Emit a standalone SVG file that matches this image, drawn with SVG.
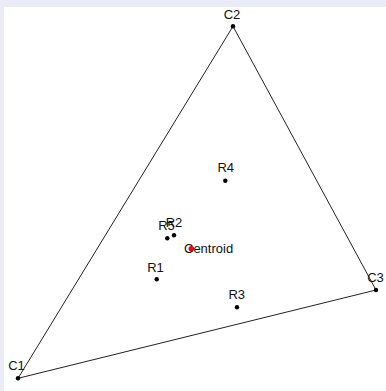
<svg xmlns="http://www.w3.org/2000/svg" width="386" height="391" viewBox="0 0 386 391">
<style>
.lbl{font-family:"Liberation Sans",Arial,sans-serif;font-size:13px;fill:#111;text-anchor:middle}
.pt{fill:#000}
.edge{stroke:#222;stroke-width:1;fill:none}
</style>
<rect x="0" y="0" width="386" height="391" fill="#ebebf8"/>
<rect x="4" y="7" width="382" height="384" fill="#fff"/>
<g id="connectors">
<line class="edge" x1="18" y1="378.3" x2="233" y2="26.3"/>
<line class="edge" x1="233" y1="26.3" x2="376" y2="290"/>
<line class="edge" x1="376" y1="290" x2="18" y2="378.3"/>
</g>
<g id="C1"><circle class="pt" cx="18" cy="378.3" r="2.2"/><text class="lbl" x="16.5" y="369.5">C1</text></g>
<g id="C2"><circle class="pt" cx="233" cy="26.3" r="2.2"/><text class="lbl" x="232" y="19">C2</text></g>
<g id="C3"><circle class="pt" cx="376" cy="290" r="2.2"/><text class="lbl" x="375.5" y="282">C3</text></g>
<g id="R4"><circle class="pt" cx="225.3" cy="180.7" r="2.2"/><text class="lbl" x="225.7" y="172">R4</text></g>
<g id="R5"><circle class="pt" cx="167.3" cy="238.3" r="2.2"/><text class="lbl" x="166.5" y="230">R5</text></g>
<g id="R2"><circle class="pt" cx="174" cy="235.3" r="2.2"/><text class="lbl" x="174" y="227">R2</text></g>
<g id="R1"><circle class="pt" cx="156.7" cy="279.3" r="2.2"/><text class="lbl" x="155.5" y="271.5">R1</text></g>
<g id="R3"><circle class="pt" cx="237" cy="307.3" r="2.2"/><text class="lbl" x="236.8" y="299">R3</text></g>
<g id="Centroid"><circle cx="191.3" cy="248.7" r="2.8" fill="#f00"/><text class="lbl" x="184" y="252.7" style="text-anchor:start">Centroid</text></g>
</svg>
